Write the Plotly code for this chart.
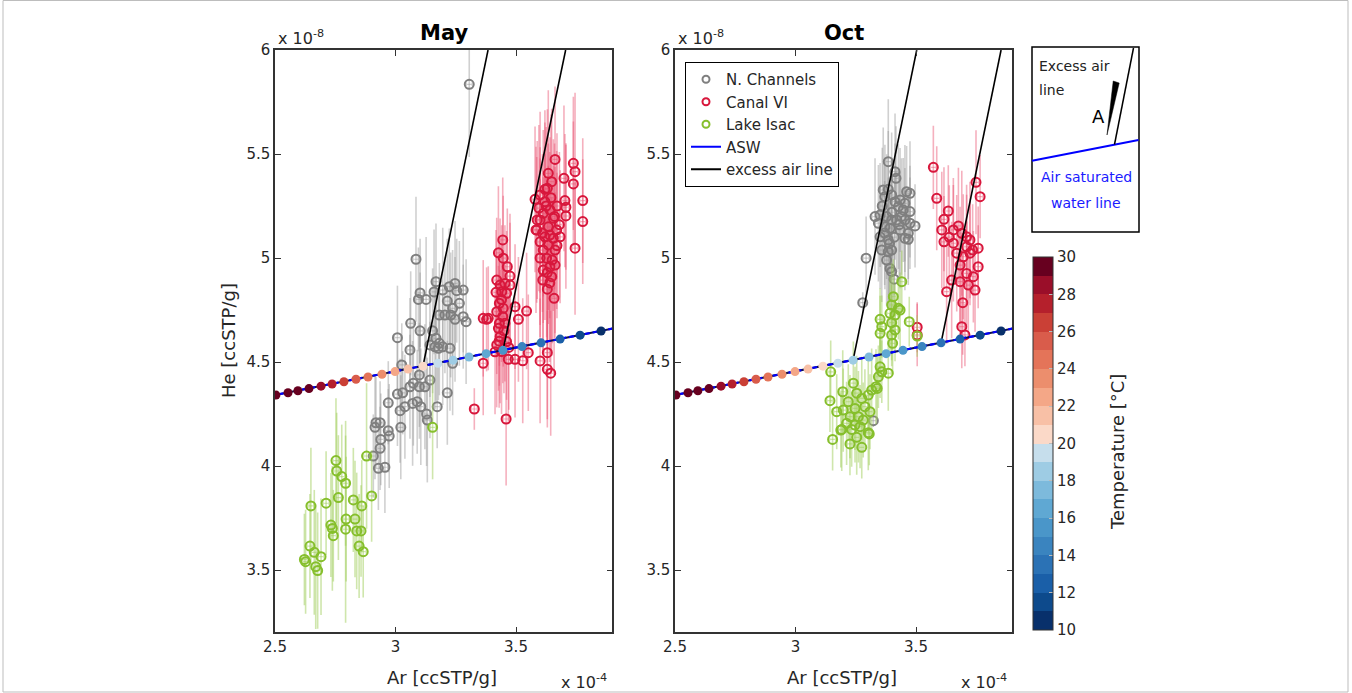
import math
import plotly.graph_objects as go

# ---------------- data (Ar in 1e-4 ccSTP/g, He in 1e-8 ccSTP/g) ----------------
may_grey_ar = [3.306, 3.085, 3.168, 3.160, 3.102, 3.095, 3.127, 3.196, 3.223, 3.247,
               3.254, 3.281, 3.215, 3.237, 3.265, 3.229, 3.182, 3.205, 3.247, 3.281,
               3.293, 3.063, 3.102, 3.008, 3.154, 3.168, 3.182, 3.164, 3.196, 3.226,
               3.060, 3.026, 3.099, 3.074, 3.099, 3.122, 3.143, 3.060, 3.008, 3.030,
               3.215, 3.039, 3.071, 3.090, 3.105, 3.173, 3.019, 3.129, 3.132, 2.970,
               3.022, 2.919, 2.936, 2.915, 2.970, 2.974, 2.939, 2.936, 2.908, 2.929,
               2.956, 3.143, 3.178, 3.237]
may_grey_he = [5.835, 4.994, 4.886, 4.837, 4.832, 4.801, 4.801, 4.846, 4.862, 4.878,
               4.843, 4.846, 4.793, 4.758, 4.782, 4.726, 4.726, 4.726, 4.705, 4.718,
               4.694, 4.686, 4.650, 4.617, 4.650, 4.614, 4.590, 4.573, 4.573, 4.566,
               4.558, 4.486, 4.438, 4.398, 4.381, 4.381, 4.413, 4.381, 4.346, 4.352,
               4.352, 4.285, 4.301, 4.309, 4.285, 4.285, 4.266, 4.250, 4.221, 4.304,
               4.186, 4.208, 4.208, 4.186, 4.170, 4.144, 4.128, 4.085, 4.048, 3.989,
               3.994, 4.582, 4.566, 4.494]
may_grey_err = [0.35, 0.30, 0.28, 0.30, 0.26, 0.25, 0.30, 0.30, 0.28, 0.30,
                0.25, 0.30, 0.30, 0.28, 0.30, 0.30, 0.25, 0.28, 0.30, 0.25,
                0.30, 0.25, 0.28, 0.25, 0.30, 0.30, 0.25, 0.30, 0.28, 0.30,
                0.25, 0.20, 0.25, 0.30, 0.25, 0.30, 0.28, 0.25, 0.25, 0.20,
                0.25, 0.25, 0.30, 0.25, 0.28, 0.20, 0.25, 0.25, 0.30, 0.20,
                0.25, 0.22, 0.20, 0.25, 0.20, 0.25, 0.22, 0.20, 0.20, 0.20,
                0.22, 0.25, 0.25, 0.25]

may_red_ar = [3.662, 3.738, 3.745, 3.699, 3.738, 3.634, 3.648, 3.630, 3.579, 3.777,
              3.703, 3.707, 3.707, 3.600, 3.620, 3.641, 3.613, 3.600, 3.655, 3.634,
              3.586, 3.669, 3.620, 3.655, 3.683, 3.600, 3.634, 3.613, 3.662, 3.627,
              3.641, 3.613, 3.662, 3.648, 3.611, 3.777, 3.745, 3.658, 3.588, 3.583,
              3.625, 3.645, 3.660, 3.610, 3.640, 3.670, 3.600, 3.650, 3.630, 3.620,
              3.670, 3.595, 3.680, 3.640, 3.630,
              3.445, 3.427, 3.447, 3.464, 3.475, 3.420, 3.434, 3.454, 3.475, 3.417,
              3.441, 3.461, 3.431, 3.447, 3.420, 3.445, 3.431, 3.454, 3.378, 3.496,
              3.544, 3.510, 3.427, 3.434, 3.420, 3.413, 3.461, 3.364, 3.468, 3.496,
              3.528, 3.551, 3.600, 3.630, 3.630, 3.644, 3.327, 3.459, 3.364, 3.385,
              3.440, 3.450, 3.430, 3.440, 3.470]
may_red_he = [5.474, 5.455, 5.415, 5.383, 5.356, 5.407, 5.367, 5.335, 5.282, 5.276,
              5.276, 5.244, 5.202, 5.303, 5.271, 5.231, 5.215, 5.183, 5.191, 5.150,
              5.135, 5.135, 5.102, 5.095, 5.102, 5.078, 5.063, 5.038, 5.038, 4.999,
              4.958, 4.942, 4.966, 4.910, 4.894, 5.175, 5.047, 4.806, 5.183, 5.135,
              5.250, 5.290, 5.200, 5.120, 5.110, 5.060, 5.000, 4.990, 4.930, 5.330,
              5.250, 5.240, 5.160, 4.880, 4.850,
              5.087, 5.025, 4.999, 4.958, 4.913, 4.894, 4.870, 4.878, 4.870, 4.835,
              4.838, 4.830, 4.782, 4.758, 4.742, 4.718, 4.686, 4.686, 4.705, 4.766,
              4.745, 4.705, 4.662, 4.622, 4.582, 4.549, 4.598, 4.494, 4.513, 4.513,
              4.506, 4.545, 4.505, 4.545, 4.465, 4.446, 4.274, 4.226, 4.710, 4.710,
              4.800, 4.650, 4.600, 4.550, 4.570]
may_red_err = [0.35, 0.32, 0.38, 0.35, 0.30, 0.40, 0.35, 0.38, 0.35, 0.30,
               0.32, 0.30, 0.35, 0.40, 0.38, 0.35, 0.40, 0.35, 0.38, 0.40,
               0.35, 0.38, 0.40, 0.35, 0.32, 0.40, 0.38, 0.35, 0.40, 0.38,
               0.35, 0.40, 0.35, 0.38, 0.35, 0.30, 0.32, 0.35, 0.38, 0.40,
               0.38, 0.40, 0.35, 0.38, 0.40, 0.35, 0.38, 0.40, 0.35, 0.38,
               0.35, 0.40, 0.35, 0.38, 0.35,
               0.30, 0.32, 0.30, 0.28, 0.30, 0.30, 0.32, 0.28, 0.30, 0.30,
               0.32, 0.30, 0.30, 0.28, 0.30, 0.32, 0.30, 0.28, 0.25, 0.30,
               0.28, 0.30, 0.30, 0.32, 0.30, 0.30, 0.28, 0.25, 0.30, 0.28,
               0.30, 0.28, 0.30, 0.32, 0.28, 0.30, 0.10, 0.32, 0.28, 0.25,
               0.30, 0.30, 0.32, 0.30, 0.30]

may_green_ar = [2.753, 2.756, 2.777, 2.793, 2.880, 2.901, 2.649, 2.712, 2.763, 2.825,
                2.860, 2.795, 2.832, 2.732, 2.738, 2.742, 2.793, 2.839, 2.857, 2.849,
                2.866, 2.645, 2.663, 2.691, 2.622, 2.627, 2.669, 2.677, 3.154]
may_green_he = [4.026, 3.976, 3.949, 3.917, 4.048, 3.856, 3.808, 3.821, 3.848, 3.837,
                3.808, 3.745, 3.745, 3.716, 3.700, 3.665, 3.696, 3.688, 3.688, 3.615,
                3.588, 3.615, 3.585, 3.564, 3.551, 3.540, 3.516, 3.497, 4.186]
may_green_err = [0.30, 0.28, 0.25, 0.30, 0.35, 0.22, 0.28, 0.25, 0.30, 0.25,
                 0.22, 0.30, 0.28, 0.25, 0.30, 0.22, 0.45, 0.28, 0.22, 0.25,
                 0.22, 0.25, 0.30, 0.28, 0.22, 0.25, 0.30, 0.28, 0.25]

oct_grey_ar = [3.385, 3.413, 3.417, 3.364, 3.385, 3.371, 3.399, 3.413, 3.434, 3.461,
               3.475, 3.454, 3.427, 3.447, 3.475, 3.330, 3.351, 3.378, 3.399, 3.420,
               3.454, 3.475, 3.496, 3.344, 3.371, 3.392, 3.434, 3.468, 3.351, 3.385,
               3.454, 3.468, 3.358, 3.385, 3.399, 3.378, 3.392, 3.399, 3.409, 3.293,
               3.279, 3.323, 3.360, 3.400, 3.440, 3.370, 3.410, 3.430, 3.390]
oct_grey_he = [5.463, 5.415, 5.383, 5.327, 5.330, 5.295, 5.303, 5.271, 5.279, 5.319,
               5.311, 5.263, 5.247, 5.231, 5.223, 5.199, 5.207, 5.199, 5.183, 5.183,
               5.183, 5.167, 5.154, 5.167, 5.150, 5.143, 5.135, 5.119, 5.102, 5.087,
               5.095, 5.090, 5.038, 5.030, 5.038, 4.990, 4.950, 4.934, 4.898, 4.999,
               4.785, 4.218, 5.250, 5.220, 5.200, 5.120, 5.100, 5.160, 5.070]
oct_grey_err = [0.30, 0.28, 0.25, 0.30, 0.28, 0.25, 0.30, 0.28, 0.25, 0.22,
                0.25, 0.28, 0.30, 0.25, 0.22, 0.28, 0.25, 0.30, 0.28, 0.25,
                0.25, 0.22, 0.20, 0.28, 0.30, 0.25, 0.28, 0.22, 0.25, 0.30,
                0.25, 0.22, 0.25, 0.28, 0.25, 0.22, 0.20, 0.22, 0.18, 0.20,
                0.05, 0.03, 0.28, 0.25, 0.28, 0.25, 0.28, 0.25, 0.25]

oct_red_ar = [3.572, 3.586, 3.749, 3.766, 3.634, 3.616, 3.607, 3.655, 3.676, 3.690,
              3.710, 3.724, 3.638, 3.616, 3.655, 3.710, 3.735, 3.758, 3.669, 3.696,
              3.724, 3.683, 3.758, 3.710, 3.738, 3.683, 3.648, 3.717, 3.745, 3.627,
              3.694, 3.690, 3.703, 3.505, 3.505]
oct_red_he = [5.436, 5.287, 5.364, 5.295, 5.226, 5.186, 5.135, 5.135, 5.154, 5.119,
              5.102, 5.087, 5.100, 5.078, 5.071, 5.054, 5.038, 5.047, 5.023, 5.006,
              5.023, 4.966, 4.958, 4.926, 4.910, 4.886, 4.894, 4.870, 4.846, 4.838,
              4.785, 4.670, 4.630, 4.667, 4.630]
oct_red_err = [0.20, 0.25, 0.25, 0.20, 0.22, 0.25, 0.28, 0.25, 0.28, 0.30,
               0.25, 0.28, 0.25, 0.22, 0.28, 0.25, 0.22, 0.20, 0.28, 0.30,
               0.25, 0.28, 0.20, 0.25, 0.22, 0.25, 0.28, 0.22, 0.20, 0.25,
               0.25, 0.20, 0.15, 0.12, 0.15]

oct_green_ar = [3.441, 3.406, 3.399, 3.427, 3.392, 3.413, 3.434, 3.351, 3.399, 3.358,
                3.413, 3.351, 3.399, 3.403, 3.472, 3.505, 3.351, 3.358, 3.385, 3.344,
                3.146, 3.334, 3.316, 3.302, 3.240, 3.254, 3.196, 3.219, 3.275, 3.288,
                3.247, 3.309, 3.198, 3.171, 3.226, 3.261, 3.281, 3.212, 3.247, 3.192,
                3.233, 3.268, 3.302, 3.143, 3.154, 3.226, 3.254, 3.275, 3.306, 3.188,
                3.339]
oct_green_he = [4.886, 4.814, 4.774, 4.758, 4.734, 4.726, 4.750, 4.705, 4.689, 4.670,
                4.654, 4.638, 4.630, 4.590, 4.694, 4.625, 4.477, 4.453, 4.446, 4.429,
                4.453, 4.381, 4.365, 4.341, 4.398, 4.350, 4.357, 4.309, 4.325, 4.285,
                4.277, 4.261, 4.269, 4.261, 4.237, 4.237, 4.221, 4.205, 4.197, 4.176,
                4.176, 4.189, 4.160, 4.314, 4.128, 4.106, 4.138, 4.090, 4.154, 4.173,
                4.373]
oct_green_err = [0.15, 0.18, 0.20, 0.15, 0.18, 0.15, 0.18, 0.15, 0.18, 0.15,
                 0.15, 0.18, 0.15, 0.15, 0.12, 0.10, 0.15, 0.15, 0.18, 0.15,
                 0.15, 0.18, 0.20, 0.18, 0.20, 0.18, 0.20, 0.18, 0.20, 0.18,
                 0.20, 0.18, 0.20, 0.18, 0.20, 0.22, 0.18, 0.20, 0.18, 0.20,
                 0.18, 0.20, 0.18, 0.15, 0.15, 0.15, 0.18, 0.15, 0.15, 0.18,
                 0.15]

# air saturated water (ASW) points, one per temperature
asw_temp = [33, 32, 31, 30, 29, 28, 27, 26, 25, 24, 23, 22, 21,
            20, 19, 18, 17, 16, 15, 14, 13, 12, 11]
asw_ar = [2.504, 2.554, 2.595, 2.641, 2.691, 2.737, 2.786, 2.836, 2.886, 2.944,
          2.998, 3.052, 3.114, 3.176, 3.239, 3.305, 3.376, 3.446, 3.525, 3.604,
          3.683, 3.766, 3.853]
asw_he = [4.341, 4.352, 4.362, 4.372, 4.384, 4.394, 4.405, 4.417, 4.428, 4.441,
          4.454, 4.466, 4.480, 4.494, 4.509, 4.524, 4.540, 4.556, 4.574, 4.592,
          4.610, 4.629, 4.649]
asw_line_ar = [2.45, 3.95]
asw_line_he = [4.330, 4.672]

# excess air lines (start on ASW, end at top of axes)
may_ea1_ar, may_ea1_he = [3.114, 3.384], [4.480, 6.0]
may_ea2_ar, may_ea2_he = [3.446, 3.706], [4.556, 6.0]
oct_ea1_ar, oct_ea1_he = [3.239, 3.503], [4.509, 6.0]
oct_ea2_ar, oct_ea2_he = [3.604, 3.853], [4.592, 6.0]

x_ticks = [2.5, 3.0, 3.5]
y_ticks = [3.5, 4.0, 4.5, 5.0, 5.5, 6.0]
cbar_ticks = [10, 12, 14, 16, 18, 20, 22, 24, 26, 28, 30]

# ---------------- styles ----------------
W, H = 1352, 693
FONT = "DejaVu Sans"
TXT = "#262626"
GREY, GREY_E = "#7f7f7f", "rgba(150,150,150,0.45)"
RED, RED_E = "#d8173c", "rgba(232,80,110,0.45)"
GREEN, GREEN_E = "#86bf2c", "rgba(160,205,90,0.5)"

bin_colors = ["#08306b", "#0d4a8c", "#1a5fa8", "#2b72b5", "#3a84bf",
              "#4a96c9", "#5fa8d3", "#7dbadc", "#9ecce4", "#c6deec",
              "#fbd9c8", "#f8c0a6", "#f4a787", "#ec8e6d", "#e47459",
              "#d95c4b", "#ca4036", "#b5202c", "#9a0e29", "#67001f"]
colorscale = []
for i, c in enumerate(bin_colors):
    colorscale.append([i / 20, c])
    colorscale.append([(i + 1) / 20, c])


def temp_color(t):
    idx = min(max(math.ceil(t) - 11, 0), 19)
    return bin_colors[idx]


def pxx(x):
    return x / W


def pxy(y):
    return 1 - y / H


fig = go.Figure()


def add_series(ar, he, err, col, ecol, xa, ya):
    fig.add_trace(go.Scatter(
        x=ar, y=he, mode="markers", xaxis=xa, yaxis=ya, showlegend=False,
        hoverinfo="skip",
        marker=dict(symbol="circle-open", size=9, color=col,
                    line=dict(width=2, color=col)),
        error_y=dict(type="data", array=err, color=ecol, thickness=1.6, width=0),
        error_x=dict(type="constant", value=0.012, color=ecol, thickness=1.2, width=2),
    ))


for xa, ya, grey, red, green, ea1, ea2 in [
    ("x", "y", (may_grey_ar, may_grey_he, may_grey_err),
     (may_red_ar, may_red_he, may_red_err),
     (may_green_ar, may_green_he, may_green_err),
     (may_ea1_ar, may_ea1_he), (may_ea2_ar, may_ea2_he)),
    ("x2", "y2", (oct_grey_ar, oct_grey_he, oct_grey_err),
     (oct_red_ar, oct_red_he, oct_red_err),
     (oct_green_ar, oct_green_he, oct_green_err),
     (oct_ea1_ar, oct_ea1_he), (oct_ea2_ar, oct_ea2_he)),
]:
    add_series(*grey, GREY, GREY_E, xa, ya)
    add_series(*red, RED, RED_E, xa, ya)
    add_series(*green, GREEN, GREEN_E, xa, ya)
    for ea in (ea1, ea2):
        fig.add_trace(go.Scatter(x=ea[0], y=ea[1], mode="lines", xaxis=xa, yaxis=ya,
                                 line=dict(color="black", width=1.6),
                                 showlegend=False, hoverinfo="skip"))
    fig.add_trace(go.Scatter(x=asw_line_ar, y=asw_line_he, mode="lines", xaxis=xa, yaxis=ya,
                             line=dict(color="#10104a", width=2),
                             showlegend=False, hoverinfo="skip"))
    fig.add_trace(go.Scatter(x=asw_line_ar, y=asw_line_he, mode="lines", xaxis=xa, yaxis=ya,
                             line=dict(color="#0000ff", width=2.2, dash="5px,3px"),
                             showlegend=False, hoverinfo="skip"))
    fig.add_trace(go.Scatter(x=asw_ar, y=asw_he, mode="markers", xaxis=xa, yaxis=ya,
                             marker=dict(size=9, color=[temp_color(t) for t in asw_temp],
                                         line=dict(width=0)),
                             showlegend=False, hoverinfo="skip"))

# legend entries
for name, col in [("N. Channels", GREY), ("Canal VI", RED), ("Lake Isac", GREEN)]:
    fig.add_trace(go.Scatter(x=[None], y=[None], mode="markers", name=name,
                             xaxis="x2", yaxis="y2",
                             marker=dict(symbol="circle-open", size=7, color=col,
                                         line=dict(width=2, color=col))))
fig.add_trace(go.Scatter(x=[None], y=[None], mode="lines", name="ASW", xaxis="x2", yaxis="y2",
                         line=dict(color="#0000ff", width=2)))
fig.add_trace(go.Scatter(x=[None], y=[None], mode="lines", name="excess air line",
                         xaxis="x2", yaxis="y2", line=dict(color="black", width=2)))

# colorbar
fig.add_trace(go.Scatter(
    x=[None], y=[None], mode="markers", xaxis="x2", yaxis="y2", showlegend=False,
    marker=dict(color=[20], cmin=10, cmax=30, colorscale=colorscale, showscale=True,
                colorbar=dict(thickness=20, thicknessmode="pixels", len=373, lenmode="pixels",
                              x=pxx(1033), xanchor="left", y=pxy(630), yanchor="bottom",
                              xpad=0, ypad=0, outlinewidth=1, outlinecolor="#333333",
                              tickvals=cbar_ticks, ticks="inside", ticklen=4,
                              tickcolor="#bbbbbb",
                              tickfont=dict(family=FONT, size=15, color=TXT))),
))

axis_common = dict(showline=True, linecolor="#333333", linewidth=1.5, mirror="allticks",
                   ticks="inside", ticklen=6, tickwidth=1.2, tickcolor="#333333",
                   showgrid=False, zeroline=False, fixedrange=True,
                   tickfont=dict(family=FONT, size=15, color=TXT))
y_dom = [pxy(632.4), pxy(50)]

fig.update_layout(
    width=W, height=H, autosize=False,
    margin=dict(l=0, r=0, t=0, b=0, pad=0, autoexpand=False),
    paper_bgcolor="white", plot_bgcolor="white",
    font=dict(family=FONT, color=TXT),
    xaxis=dict(domain=[pxx(275), pxx(612.4)], range=[2.5, 3.9], tickvals=x_ticks,
               ticktext=["2.5", "3", "3.5"], anchor="y", **axis_common),
    yaxis=dict(domain=y_dom, range=[3.2, 6.0], tickvals=y_ticks, anchor="x", **axis_common),
    xaxis2=dict(domain=[pxx(675), pxx(1012.4)], range=[2.5, 3.9], tickvals=x_ticks,
                ticktext=["2.5", "3", "3.5"], anchor="y2", **axis_common),
    yaxis2=dict(domain=y_dom, range=[3.2, 6.0], tickvals=y_ticks, anchor="x2", **axis_common),
    legend=dict(x=pxx(685), y=pxy(62), xanchor="left", yanchor="top",
                bgcolor="white", bordercolor="black", borderwidth=1,
                font=dict(family=FONT, size=15, color=TXT), itemwidth=30,
                tracegroupgap=0),
    showlegend=True,
)

ann = []


def add_text(x, y, text, size=15, color=TXT, xanchor="center", angle=0, bold=False):
    ann.append(dict(x=pxx(x), y=pxy(y), xref="paper", yref="paper", text=text,
                    showarrow=False, xanchor=xanchor, yanchor="middle", textangle=angle,
                    font=dict(family=FONT, size=size, color=color,
                              weight="bold" if bold else "normal")))


add_text(444, 33, "May", size=21, color="black", bold=True)
add_text(844, 33, "Oct", size=21, color="black", bold=True)
add_text(276, 38, "x 10<sup>-8</sup>", size=16, xanchor="left")
add_text(676, 38, "x 10<sup>-8</sup>", size=16, xanchor="left")
add_text(609, 681, "x 10<sup>-4</sup>", size=16, xanchor="right")
add_text(1009, 681, "x 10<sup>-4</sup>", size=16, xanchor="right")
add_text(442, 677, "Ar [ccSTP/g]", size=18)
add_text(842, 677, "Ar [ccSTP/g]", size=18)
add_text(228, 341, "He [ccSTP/g]", size=18, angle=-90)
add_text(1117, 452, "Temperature [°C]", size=18, angle=-90)
# inset legend texts
add_text(1037, 66, "Excess air", size=14, color="#222222", xanchor="left")
add_text(1037, 90, "line", size=14, color="#222222", xanchor="left")
add_text(1098, 116, "A", size=18, color="black")
add_text(1086, 177, "Air saturated", size=14, color="#1a1aff")
add_text(1086, 203, "water line", size=14, color="#1a1aff")

shapes = [
    # outer frame
    dict(type="rect", xref="paper", yref="paper", x0=pxx(3), x1=pxx(1348), y0=pxy(692), y1=pxy(0.5),
         line=dict(color="#bdbdbd", width=1)),
    # inset box
    dict(type="rect", xref="paper", yref="paper", x0=pxx(1032), x1=pxx(1139), y0=pxy(232), y1=pxy(47),
         line=dict(color="black", width=1.5), fillcolor="rgba(0,0,0,0)"),
    dict(type="line", xref="paper", yref="paper", x0=pxx(1032), y0=pxy(160.8), x1=pxx(1138.5), y1=pxy(140),
         line=dict(color="#0000ff", width=2)),
    dict(type="line", xref="paper", yref="paper", x0=pxx(1114.5), y0=pxy(144.5), x1=pxx(1133.5), y1=pxy(48),
         line=dict(color="black", width=1.5)),
    dict(type="path", xref="paper", yref="paper",
         path=f"M {pxx(1113.2)} {pxy(81)} L {pxx(1119.2)} {pxy(83)} L {pxx(1107)} {pxy(135)} Z",
         fillcolor="black", line=dict(color="black", width=0.5)),
]

fig.update_layout(annotations=ann, shapes=shapes)
fig.write_html("out.html")
